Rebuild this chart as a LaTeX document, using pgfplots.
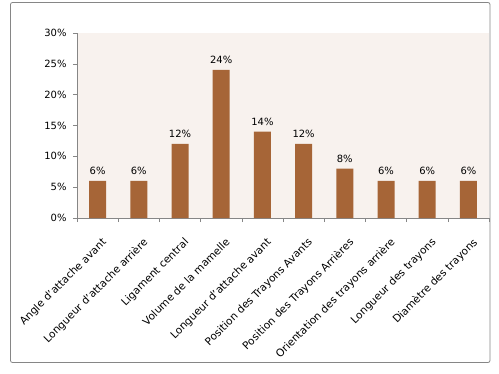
\documentclass[border=0pt]{standalone}
\usepackage{pgfplots}
\pgfplotsset{compat=1.18}
\usepackage{fontspec}
\setmainfont{DejaVu Sans}
\definecolor{barc}{HTML}{A66537}
\definecolor{bgc}{HTML}{F8F2EE}
\definecolor{axc}{HTML}{868686}
\begin{document}
\begin{tikzpicture}
\path[use as bounding box] (0,0) rectangle (499bp,374bp);
\draw[axc, rounded corners=2bp, line width=0.8bp] (10.5bp,11.5bp) rectangle (490bp,371.5bp);
\begin{axis}[
  at={(77bp,156bp)}, anchor=south west,
  scale only axis, width=412bp, height=185bp,
  xmin=-0.5, xmax=9.5, ymin=0, ymax=30,
  axis lines*=left,
  axis line style={axc, line width=0.6bp},
  axis background/.style={fill=bgc},
  tick align=outside,
  major tick length=4bp,
  minor tick length=4bp,
  every tick/.style={axc, line width=0.6bp},
  xtick={0,...,9},
  major x tick style={draw=none},
  minor xtick={-0.5,0.5,...,9.5},
  xticklabels={Angle d'attache avant, Longueur d'attache arrière, Ligament central, Volume de la mamelle, Longueur d'attache avant, Position des Trayons Avants, Position des Trayons Arrières, Orientation des trayons arrière, Longueur des trayons, Diamètre des trayons},
  xticklabel style={rotate=45, anchor=north east, font=\fontsize{10.6}{12}\selectfont, inner sep=1bp, yshift=-12bp, xshift=-7bp},
  ytick={0,5,...,30},
  yticklabels={0\%,5\%,10\%,15\%,20\%,25\%,30\%},
  yticklabel style={font=\fontsize{10}{12}\selectfont, xshift=-3bp},
  nodes near coords,
  point meta=explicit symbolic,
  every node near coord/.append style={font=\fontsize{10}{12}\selectfont, yshift=3bp},
]
\addplot[ybar, bar width=17bp, fill=barc, draw=none] coordinates {
(0,6) [6\%]
(1,6) [6\%]
(2,12) [12\%]
(3,24) [24\%]
(4,14) [14\%]
(5,12) [12\%]
(6,8) [8\%]
(7,6) [6\%]
(8,6) [6\%]
(9,6) [6\%]
};
\end{axis}
\end{tikzpicture}
\end{document}
